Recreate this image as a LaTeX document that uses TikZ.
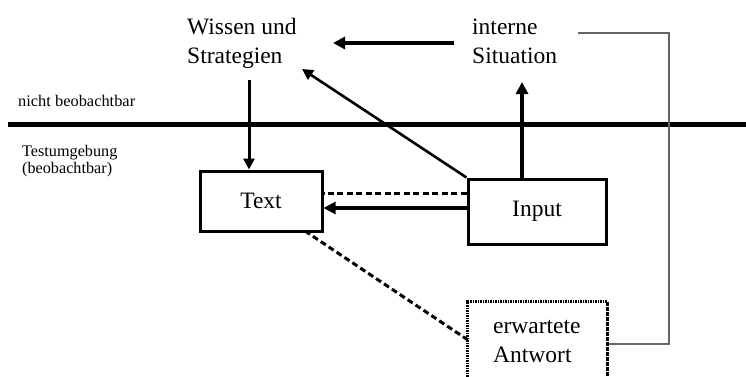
\documentclass[tikz,border=0pt]{standalone}
\usepackage{fontspec}
\usepackage{graphicx}
\setmainfont{Liberation Serif}
\usetikzlibrary{arrows.meta}
\begin{document}
\begin{tikzpicture}[x=1pt,y=-1pt,
  big/.style={font=\fontsize{23.5}{29}\selectfont},
  small/.style={font=\fontsize{16.2}{16.5}\selectfont},
  box/.style={draw,line width=3pt,rectangle,inner sep=0pt},
  arr/.style={line width=3.5pt,-{Triangle[length=12pt,width=12pt]}},
  thinarr/.style={line width=2.6pt,-{Triangle[length=11pt,width=11pt]}},
  dashline/.style={line width=3pt,dash pattern=on 6pt off 3.5pt},
  dotbox/.style={draw,line width=3pt,dash pattern=on 1.6pt off 0.9pt,rectangle,inner sep=0pt},
  feedback/.style={draw=black!60,line width=1.2pt}]
\useasboundingbox (0,0) rectangle (746,376);

% boundary between observable and not observable
\draw[line width=5pt] (8,124.5) -- (746,124.5);
\node[small,anchor=base west,inner sep=0pt] (nb) at (18,106)
  {\resizebox{117pt}{\height}{nicht beobachtbar}};
\node[small,anchor=base west,inner sep=0pt,align=left] (tu) at (22,173)
  {Testumgebung\\(beobachtbar)};

% upper (internal) part
\node[big,anchor=base west,inner sep=0pt,align=left] (wissen) at (187,63)
  {Wissen und\\Strategien};
\node[big,anchor=base west,inner sep=0pt,align=left] (situation) at (472,63)
  {interne\\Situation};

% lower (observable) part
\node[box,big,minimum width=122pt,minimum height=60pt] (text) at (261,201) {Text};
\node[box,big,minimum width=138pt,minimum height=65pt] (input) at (537,211.5) {Input};
\node[dotbox,minimum width=139.5pt,minimum height=110pt,anchor=north] (antwort) at (537.5,300) {};
\node[big,anchor=base west,inner sep=0pt,align=left] (antworttext) at (493,362)
  {erwartete\\Antwort};

% connection points
\coordinate (sitStart) at (454,43);
\coordinate (wisEnd) at (333,43);
\coordinate (sitIn) at (522,82);
\coordinate (wisIn) at (302,69);
\coordinate (wisOut) at (249,80);
\coordinate (dashY) at (0,193);
\coordinate (arrY) at (0,208);
\coordinate (textCorner) at (305,231);
\coordinate (antIn) at (468,340);
\coordinate (fbTop) at (578,33);
\coordinate (fbCorner) at (669,344);

% connectors
\draw[arr] (sitStart) -- (wisEnd);
\draw[arr] (input.north -| sitIn) -- (sitIn);
\draw[thinarr] (input.north west) -- (wisIn);
\draw[line width=3pt,-{Triangle[length=11pt,width=11pt]}] (wisOut) -- (text.north -| wisOut);
\draw[dashline] (input.west |- dashY) -- (text.east |- dashY);
\draw[arr] (input.west |- arrY) -- (text.east |- arrY);
\draw[dashline] (textCorner) -- (antIn);
\draw[feedback] (fbTop) -| (fbCorner) -- (antwort.east |- fbCorner);
\end{tikzpicture}
\end{document}
